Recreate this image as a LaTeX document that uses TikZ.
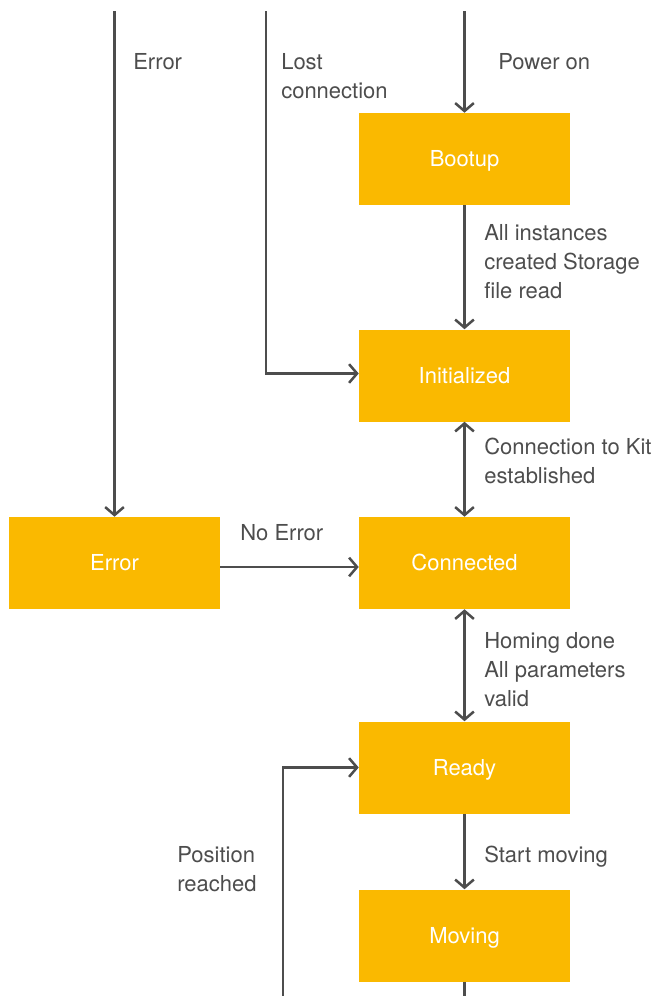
\documentclass[tikz,border=0pt]{standalone}
\usepackage{fontspec}
\setmainfont{TeX Gyre Heros}
\usetikzlibrary{arrows.meta}
\definecolor{boxyellow}{HTML}{FAB900}
\definecolor{linegray}{HTML}{4D4D4D}

\begin{document}
\begin{tikzpicture}[x=0.75pt,y=-0.75pt,
  state/.style={fill=boxyellow,text=white,minimum width=158.25pt,
    minimum height=69pt,inner sep=0pt,text height=11.85pt,text depth=0pt,
    font=\fontsize{16.5}{21.75}\selectfont},
  lbl/.style={anchor=north west,inner sep=0pt,align=left,text=linegray,
    font=\fontsize{16.5}{21.75}\selectfont},
  flow/.style={draw=linegray,line width=1.9pt,-{Straight Barb[length=6pt,width=14pt]}},
  both/.style={flow,{Straight Barb[length=6pt,width=14pt]}-{Straight Barb[length=6pt,width=14pt]}}]
  \useasboundingbox (0,0) rectangle (663,996);
  \foreach \n/\t/\y in {boot/Bootup/159,init/Initialized/375.5,conn/Connected/563,
    ready/Ready/767.5,move/Moving/935.5}
  \node[state] (\n) at (464.5,\y) {\t};
  \node[state] (err) at (114.5,563) {Error};
  \coordinate (pwr) at (464.5,11); \coordinate (lost) at (266,11);
  \coordinate (fail) at (114.5,11); \coordinate (reach) at (283,996);
  \coordinate (out) at (464.5,996);
  \draw[flow] (pwr) -- (boot); \draw[flow] (boot) -- (init);
  \draw[flow] (lost) |- ([yshift=1.5pt]init.west); \draw[flow] (fail) -- (err);
  \draw[both] (init) -- (conn); \draw[both] (conn) -- (ready);
  \draw[flow] ([yshift=-3pt]err.east) -- ([yshift=-3pt]conn.west);
  \draw[flow] (ready) -- (move); \draw[flow] (reach) |- (ready.west);
  \draw[flow,-] (move) -- (out);
  \node[lbl] (lpwr) at (498,53) {Power on};
  \node[lbl] (llost) at (281,53) {Lost\\connection};
  \node[lbl] (lfail) at (133,53) {Error};
  \node[lbl] (lboot) at (484,224) {All instances\\created Storage\\file read};
  \node[lbl] (linit) at (484,438) {Connection to Kit\\established};
  \node[lbl] (lnoerr) at (240,524) {No Error};
  \node[lbl] (lconn) at (484,632) {Homing done\\All parameters\\valid};
  \node[lbl] (lready) at (484,846) {Start moving};
  \node[lbl] (lreach) at (177,846) {Position\\reached};
\end{tikzpicture}
\end{document}
